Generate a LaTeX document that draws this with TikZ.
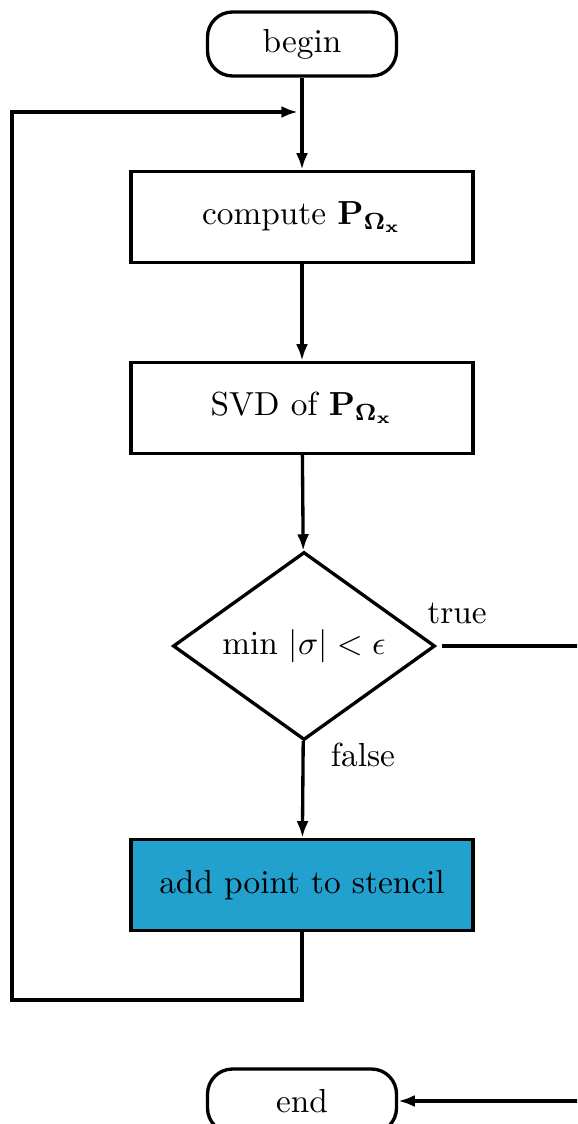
\documentclass[tikz,border=0pt]{standalone}
\usepackage{amsmath}
\usepackage{amssymb}
\usepackage{bm}
\usetikzlibrary{arrows.meta,positioning,calc,shapes.geometric}
\definecolor{stencilBlue}{RGB}{35,161,206}
\tikzset{
  terminal node/.style={draw,rounded corners=7.5pt,line width=1pt,minimum width=56.7pt,minimum height=19.2pt,align=center},
  process node/.style={draw,line width=1pt,minimum width=102.6pt,minimum height=27.3pt,align=center},
  process node blue/.style={process node,fill=stencilBlue},
  decision node/.style={draw,diamond,line width=1pt,shape aspect=1.4,inner sep=0pt,minimum width=78.6pt,minimum height=56.4pt,align=center},
  flow arrow/.style={-{Latex[length=5pt,width=3.6pt]},line width=1pt},
  flow line/.style={line width=1pt}
}

\begin{document}
\begin{tikzpicture}[x=0.3pt,y=-0.3pt]
        \useasboundingbox (0,0) rectangle (577,1124);
        \clip (0,0) rectangle (577,1124);
        \node[terminal node] (begin) at (302,44) {begin};
        \node[process node] (compute) at (302,217) {compute $\mathbf{P}_{\bm{\Omega}_{\mathbf{x}}}$};
        \node[process node] (svd) at (302,408) {SVD of $\mathbf{P}_{\bm{\Omega}_{\mathbf{x}}}$};
        \node[decision node] (test) at (304,646) {$\min\,|\sigma|<\epsilon$};
        \node[process node blue] (addpoint) at (302,885) {add point to stencil};
        \node[terminal node] (finish) at (302,1101) {end};
        \node (truelbl) at (457,613) {true};
        \node (falselbl) at (363,755) {false};
        \coordinate (loopbot) at (12,1000);
        \coordinate (loopin) at (298,112);
        \coordinate (farright) at (640,646);
        \draw[flow arrow] (begin) -- (compute);
        \draw[flow arrow] (compute) -- (svd);
        \draw[flow arrow] (svd) -- (test);
        \draw[flow arrow] (test) -- (addpoint);
        \draw[flow arrow] (addpoint.south) |- (loopbot) |- (loopin);
        \draw[flow arrow] ([xshift=1.5pt]test.east) -- (farright) |- (finish.east);
      \end{tikzpicture}
\end{document}
